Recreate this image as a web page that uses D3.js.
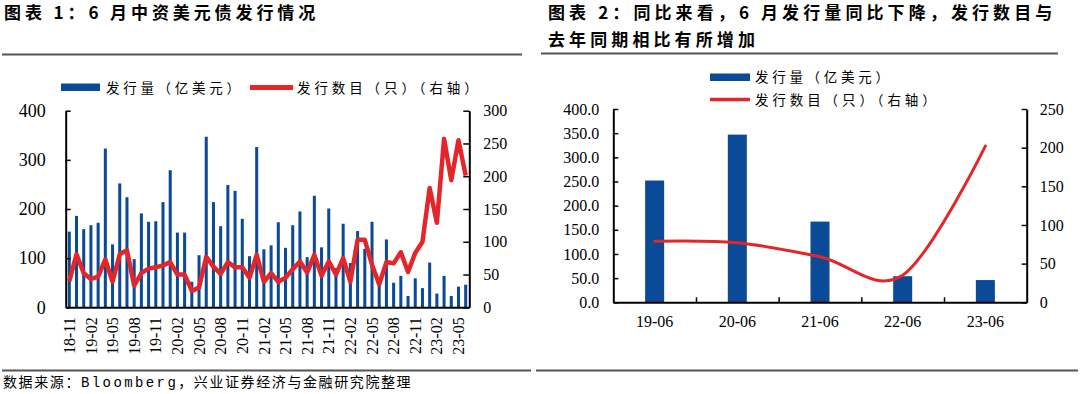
<!DOCTYPE html>
<html>
<head>
<meta charset="utf-8">
<script src="https://cdn.jsdelivr.net/npm/d3@7"></script>
<style>
  body { margin: 0; background: #fff; }
  svg { display: block; }
</style>
</head>
<body>
<script>
// ---- chart 1 data: monthly issuance, 18-11 .. 23-06
const months = [
  '18-11', '18-12',
  '19-01', '19-02', '19-03', '19-04', '19-05', '19-06', '19-07', '19-08', '19-09', '19-10', '19-11', '19-12',
  '20-01', '20-02', '20-03', '20-04', '20-05', '20-06', '20-07', '20-08', '20-09', '20-10', '20-11', '20-12',
  '21-01', '21-02', '21-03', '21-04', '21-05', '21-06', '21-07', '21-08', '21-09', '21-10', '21-11', '21-12',
  '22-01', '22-02', '22-03', '22-04', '22-05', '22-06', '22-07', '22-08', '22-09', '22-10', '22-11', '22-12',
  '23-01', '23-02', '23-03', '23-04', '23-05', '23-06'
];
const issueAmount = [
  154, 186,
  159, 167, 172, 323, 128, 252, 224, 98, 191, 174, 175, 214,
  279, 152, 152, 52, 106, 347, 214, 165, 249, 237, 180, 104,
  326, 118, 126, 173, 121, 167, 195, 102, 227, 122, 201, 80,
  170, 90, 155, 119, 174, 54, 138, 50, 64, 23, 59, 39,
  91, 28, 64, 23, 42, 46
];
const issueCount = [
  40, 81,
  52, 43, 47, 73, 39, 81, 87, 33, 52, 59, 61, 64,
  69, 50, 50, 25, 30, 77, 62, 51, 69, 61, 61, 45,
  80, 39, 52, 39, 45, 58, 70, 53, 80, 48, 70, 50,
  75, 39, 103, 103, 65, 35, 69, 67, 84, 54, 83, 100,
  182, 129, 257, 194, 255, 201
];
const monthTicks = ['18-11', '19-02', '19-05', '19-08', '19-11', '20-02', '20-05', '20-08', '20-11',
  '21-02', '21-05', '21-08', '21-11', '22-02', '22-05', '22-08', '22-11', '23-02', '23-05'];
const leftTicks1 = [0, 100, 200, 300, 400];
const rightTicks1 = [0, 50, 100, 150, 200, 250, 300];

// ---- chart 2 data: June, year on year
const juneCats = ['19-06', '20-06', '21-06', '22-06', '23-06'];
const juneAmount = [252, 347, 167, 54, 46];
const juneCount = [79, 77, 59, 35, 202];
const leftTicks2 = [0, 50, 100, 150, 200, 250, 300, 350, 400];
const rightTicks2 = [0, 50, 100, 150, 200, 250];

const BLUE = '#0B4A96';
const RED = '#E3262A';
const CJK = '"Noto Sans CJK SC", sans-serif';
const SERIF = '"Liberation Serif", "Times New Roman", serif';

const svg = d3.select('body').append('svg')
  .attr('width', 1080)
  .attr('height', 394)
  .style('background', '#fff');

// titles
svg.append('text')
  .attr('x', 4).attr('y', 19)
  .attr('font-family', CJK).attr('font-size', 17).attr('font-weight', 700)
  .attr('letter-spacing', 3.9)
  .text('图表 1：6 月中资美元债发行情况');

svg.append('text')
  .attr('x', 548).attr('y', 19)
  .attr('font-family', CJK).attr('font-size', 17).attr('font-weight', 700)
  .attr('letter-spacing', 4.1)
  .text('图表 2：同比来看，6 月发行量同比下降，发行数目与');
svg.append('text')
  .attr('x', 548).attr('y', 46)
  .attr('font-family', CJK).attr('font-size', 17).attr('font-weight', 700)
  .attr('letter-spacing', 4.1)
  .text('去年同期相比有所增加');

// separator rules
svg.append('line').attr('x1', 2).attr('x2', 522).attr('y1', 54.5).attr('y2', 54.5)
  .attr('stroke', '#555').attr('stroke-width', 2);
svg.append('line').attr('x1', 541).attr('x2', 1058).attr('y1', 53.5).attr('y2', 53.5)
  .attr('stroke', '#555').attr('stroke-width', 2);
svg.append('line').attr('x1', 2).attr('x2', 531).attr('y1', 370.5).attr('y2', 370.5)
  .attr('stroke', '#555').attr('stroke-width', 2);
svg.append('line').attr('x1', 536).attr('x2', 1078).attr('y1', 370.5).attr('y2', 370.5)
  .attr('stroke', '#555').attr('stroke-width', 2);

// source note
const src = svg.append('text')
  .attr('x', 3).attr('y', 387)
  .attr('font-family', CJK).attr('font-size', 14).attr('letter-spacing', 1.6);
src.append('tspan').text('数据来源：');
src.append('tspan').attr('font-family', '"Liberation Mono", monospace').attr('letter-spacing', 2.4).text('Bloomberg');
src.append('tspan').text('，兴业证券经济与金融研究院整理');

function styleAxis(g, size) {
  g.attr('font-family', SERIF).attr('font-size', size);
  g.select('.domain').attr('stroke', '#000').attr('stroke-width', 2);
  g.selectAll('.tick line').attr('stroke', '#000').attr('stroke-width', 1.5);
  g.selectAll('.tick text').attr('fill', '#000');
}

// ================= chart 1 =================
const x1 = d3.scaleBand().domain(months).range([65.7, 469.3]).paddingInner(0.58).paddingOuter(0.29);
const yL1 = d3.scaleLinear().domain([0, 400]).range([307.3, 110.7]);
const yR1 = d3.scaleLinear().domain([0, 300]).range([307.3, 110.7]);

svg.append('g')
  .selectAll('rect')
  .data(months)
  .join('rect')
  .attr('x', (d) => x1(d))
  .attr('y', (d, i) => yL1(issueAmount[i]))
  .attr('width', x1.bandwidth())
  .attr('height', (d, i) => yL1(0) - yL1(issueAmount[i]))
  .attr('fill', BLUE);

const line1 = d3.line()
  .x((d) => x1(d) + x1.bandwidth() / 2)
  .y((d, i) => yR1(issueCount[i]));

svg.append('path')
  .datum(months)
  .attr('d', line1)
  .attr('fill', 'none')
  .attr('stroke', RED)
  .attr('stroke-width', 4.5)
  .attr('stroke-linejoin', 'round');

const gx1 = svg.append('g')
  .attr('transform', `translate(0,${yL1(0)})`)
  .call(d3.axisBottom(x1).tickValues(monthTicks).tickSize(0).tickSizeOuter(0));
styleAxis(gx1, 16);
gx1.selectAll('.tick text')
  .attr('transform', 'rotate(-90)')
  .attr('x', -10).attr('y', 0).attr('dy', '0.35em')
  .attr('text-anchor', 'end');

const gl1 = svg.append('g')
  .attr('transform', 'translate(65.7,0)')
  .call(d3.axisLeft(yL1).tickValues(leftTicks1).tickSize(-5).tickSizeOuter(0).tickPadding(20));
styleAxis(gl1, 18);

const gr1 = svg.append('g')
  .attr('transform', 'translate(469.3,0)')
  .call(d3.axisRight(yR1).tickValues(rightTicks1).tickSize(-6).tickSizeOuter(0).tickPadding(14));
styleAxis(gr1, 16);

// legend 1
svg.append('rect').attr('x', 61).attr('y', 83.5).attr('width', 39).attr('height', 7.5).attr('fill', BLUE);
svg.append('text').attr('x', 106).attr('y', 88).attr('dy', '0.35em')
  .attr('font-family', CJK).attr('font-size', 13.5).attr('letter-spacing', 3.7)
  .text('发行量（亿美元）');
svg.append('line').attr('x1', 250).attr('x2', 293).attr('y1', 87.5).attr('y2', 87.5)
  .attr('stroke', RED).attr('stroke-width', 5);
svg.append('text').attr('x', 297).attr('y', 88).attr('dy', '0.35em')
  .attr('font-family', CJK).attr('font-size', 13.5).attr('letter-spacing', 3.9)
  .text('发行数目（只）（右轴）');

// ================= chart 2 =================
const x2 = d3.scaleBand().domain(juneCats).range([613.3, 1026.7]).paddingInner(0.77).paddingOuter(0.385);
const xEdge2 = d3.scaleLinear().domain([0, juneCats.length]).range([613.3, 1026.7]);
const yL2 = d3.scaleLinear().domain([0, 400]).range([302.3, 109]);
const yR2 = d3.scaleLinear().domain([0, 250]).range([302.3, 109]);

svg.append('g')
  .selectAll('rect')
  .data(juneCats)
  .join('rect')
  .attr('x', (d) => x2(d))
  .attr('y', (d, i) => yL2(juneAmount[i]))
  .attr('width', x2.bandwidth())
  .attr('height', (d, i) => yL2(0) - yL2(juneAmount[i]))
  .attr('fill', BLUE);

const line2 = d3.line()
  .curve(d3.curveCatmullRom.alpha(0))
  .x((d) => x2(d) + x2.bandwidth() / 2)
  .y((d, i) => yR2(juneCount[i]));

svg.append('path')
  .datum(juneCats)
  .attr('d', line2)
  .attr('fill', 'none')
  .attr('stroke', RED)
  .attr('stroke-width', 3)
  .attr('stroke-linecap', 'round');

const gxe2 = svg.append('g')
  .attr('transform', `translate(0,${yL2(0)})`)
  .call(d3.axisBottom(xEdge2).tickValues([1, 2, 3, 4]).tickSize(-5).tickSizeOuter(0).tickFormat(''));
styleAxis(gxe2, 16);

const gx2 = svg.append('g')
  .attr('transform', `translate(0,${yL2(0)})`)
  .call(d3.axisBottom(x2).tickSize(0).tickPadding(13).tickSizeOuter(0));
styleAxis(gx2, 16);
gx2.select('.domain').remove();

const gl2 = svg.append('g')
  .attr('transform', 'translate(613.3,0)')
  .call(d3.axisLeft(yL2).tickValues(leftTicks2).tickFormat(d3.format('.1f')).tickSize(-5).tickSizeOuter(0).tickPadding(14));
styleAxis(gl2, 16);

const gr2 = svg.append('g')
  .attr('transform', 'translate(1026.7,0)')
  .call(d3.axisRight(yR2).tickValues(rightTicks2).tickSize(-5).tickSizeOuter(0).tickPadding(13));
styleAxis(gr2, 16);

// legend 2
svg.append('rect').attr('x', 710).attr('y', 73.5).attr('width', 40).attr('height', 7.5).attr('fill', BLUE);
svg.append('text').attr('x', 755).attr('y', 77.5).attr('dy', '0.35em')
  .attr('font-family', CJK).attr('font-size', 13.5).attr('letter-spacing', 3.7)
  .text('发行量（亿美元）');
svg.append('line').attr('x1', 710).attr('x2', 750).attr('y1', 99.5).attr('y2', 99.5)
  .attr('stroke', RED).attr('stroke-width', 3.5);
svg.append('text').attr('x', 755).attr('y', 100.5).attr('dy', '0.35em')
  .attr('font-family', CJK).attr('font-size', 13.5).attr('letter-spacing', 3.9)
  .text('发行数目（只）（右轴）');
</script>
</body>
</html>
